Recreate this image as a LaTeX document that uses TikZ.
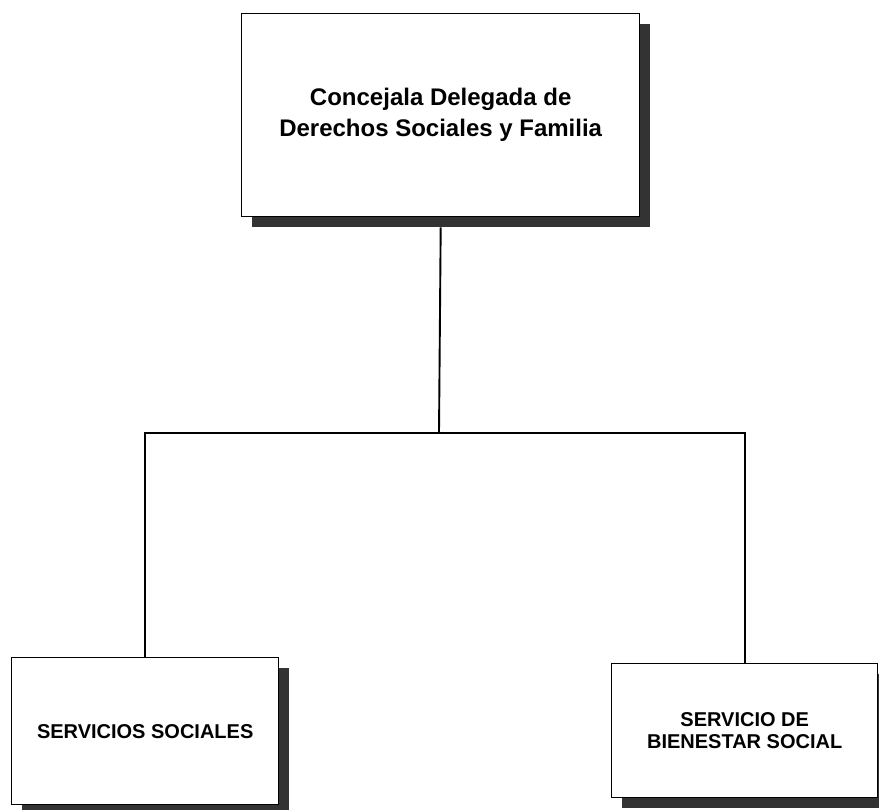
\documentclass[tikz,border=0pt]{standalone}
\usepackage{fontspec}
\setmainfont{Liberation Sans}
\usetikzlibrary{shadows,calc}
\begin{document}
\begin{tikzpicture}[x=1pt,y=-1pt,
  orgbox/.style={draw=black, line width=1.4pt, fill=white, inner sep=0pt, anchor=north west,
    align=center, font=\bfseries,
    drop shadow={shadow xshift=10pt, shadow yshift=-10pt, fill=black!80, opacity=1}},
  link/.style={draw=black, line width=1.9pt}]
\useasboundingbox (0,0) rectangle (879,810);
\node[orgbox, minimum width=398pt, minimum height=203pt,
  font=\bfseries\fontsize{24}{31}\selectfont] (top) at (241,13)
  {Concejala Delegada de\\Derechos Sociales y Familia};
\node[orgbox, minimum width=267pt, minimum height=147pt,
  font=\bfseries\fontsize{20}{23}\selectfont] (left) at (11,657)
  {SERVICIOS SOCIALES};
\node[orgbox, minimum width=266pt, minimum height=134pt,
  font=\bfseries\fontsize{20}{22}\selectfont] (right) at (611,663)
  {SERVICIO DE\\BIENESTAR SOCIAL};
\coordinate (j) at (439,433);
\draw[link] ($(top.south)+(0,10)$) -- (j);
\draw[link] (left.north) |- (j) -| (right.north);
\end{tikzpicture}
\end{document}
